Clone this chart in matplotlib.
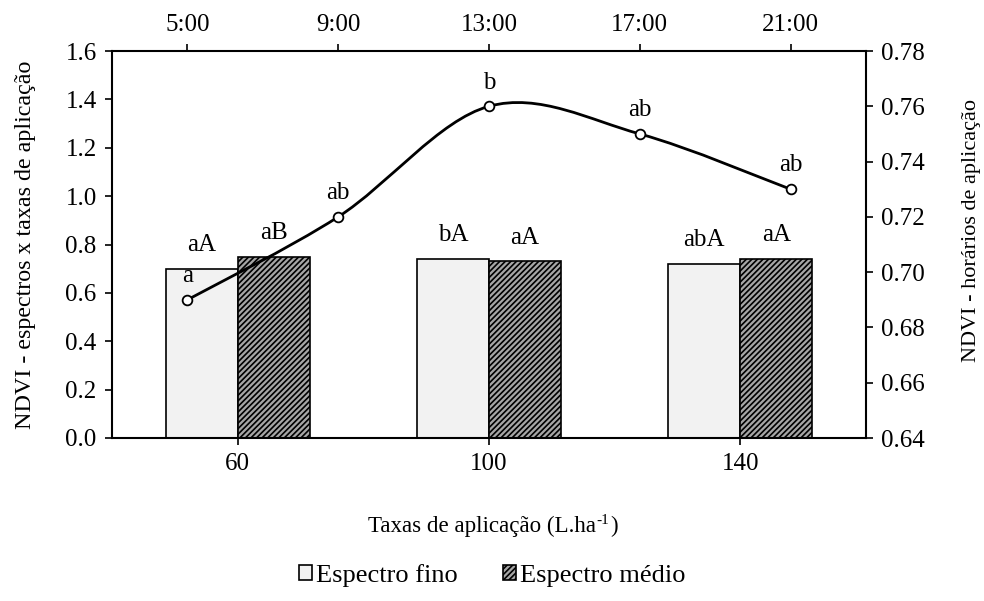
import numpy as np
import matplotlib.pyplot as plt
from matplotlib.path import Path
from matplotlib.patches import PathPatch

plt.rcParams['font.family'] = ['Liberation Serif', 'DejaVu Serif']
plt.rcParams['font.size'] = 18
plt.rcParams['hatch.linewidth'] = 1.2

# data
taxas = ['60', '100', '140']
fino = [0.70, 0.74, 0.72]
medio = [0.75, 0.73, 0.74]
fino_lbl = ['aA', 'bA', 'abA']
medio_lbl = ['aB', 'aA', 'aA']

horarios = ['5:00', '9:00', '13:00', '17:00', '21:00']
ndvi_hora = [0.69, 0.72, 0.76, 0.75, 0.73]
hora_lbl = ['a', 'ab', 'b', 'ab', 'ab']

fig = plt.figure(figsize=(9.84, 6.01), dpi=100)
ax = fig.add_axes([112 / 984, 1 - 438 / 601, 754 / 984, 387 / 601])

x = np.arange(len(taxas))
w = 0.287
b1 = ax.bar(x - w / 2, fino, w, color='#f2f2f2', edgecolor='black', linewidth=1.2,
            label='Espectro fino')
b2 = ax.bar(x + w / 2, medio, w, color='#a6a6a6', edgecolor='black', linewidth=1.2,
            hatch='//////', label='Espectro médio')
for xi, v, t in zip(x - w / 2, fino, fino_lbl):
    ax.text(xi, v + 0.052, t, ha='center', va='bottom')
for xi, v, t in zip(x + w / 2, medio, medio_lbl):
    ax.text(xi, v + 0.052, t, ha='center', va='bottom')

ax.set_xlim(-0.5, len(taxas) - 0.5)
ax.set_ylim(0, 1.6)
ax.set_yticks(np.arange(0, 1.61, 0.2))
ax.set_yticklabels([f'{v:.1f}' for v in np.arange(0, 1.61, 0.2)])
ax.set_xticks(x)
ax.set_xticklabels(taxas)
ax.set_ylabel('NDVI - espectros x taxas de aplicação', fontsize=17.3, labelpad=21)
ax.tick_params(direction='out', length=5, width=1.2, pad=6)
for s in ax.spines.values():
    s.set_linewidth(1.5)

# x label with a plain hyphen in the superscript
t1 = fig.text(368 / 984, 1 - 532 / 601, 'Taxas de aplicação (L.ha', fontsize=16.6,
              ha='left', va='baseline')
t2 = plt.annotate('-1', xy=(1, 0), xycoords=t1, xytext=(0.3, 9.5), textcoords='offset points',
                  fontsize=11, ha='left', va='baseline', annotation_clip=False)
plt.annotate(')', xy=(1, 0), xycoords=(t2, t1), xytext=(0.5, 0), textcoords='offset points',
             fontsize=16.6, ha='left', va='bottom', annotation_clip=False)

# secondary axes: line over horarios
ax2 = fig.add_axes(ax.get_position(), frameon=False)
ax2.set_xlim(-0.5, len(horarios) - 0.5)
ax2.set_ylim(0.64, 0.78)
ax2.xaxis.tick_top()
ax2.yaxis.tick_right()
ax2.yaxis.set_label_position('right')
ax2.set_xticks(np.arange(len(horarios)))
ax2.set_xticklabels(horarios)
ax2.set_yticks(np.arange(0.64, 0.781, 0.02))
ax2.set_yticklabels([f'{v:.2f}' for v in np.arange(0.64, 0.781, 0.02)])
ax2.set_ylabel('NDVI - horários de aplicação', fontsize=16, labelpad=28)
ax2.yaxis.set_label_coords(1.127, 0.535)
ax2.tick_params(direction='out', length=5, width=1.2, pad=6)

# smoothed line (Catmull-Rom style Bezier, like Excel)
hx = np.arange(len(horarios), dtype=float)
hy = np.array(ndvi_hora)
pts = np.column_stack([hx, hy])
ext = np.vstack([pts[0], pts, pts[-1]])
verts = [tuple(pts[0])]
codes = [Path.MOVETO]
for i in range(len(pts) - 1):
    p0, p1, p2, p3 = ext[i], ext[i + 1], ext[i + 2], ext[i + 3]
    c1 = p1 + (p2 - p0) / 6
    c2 = p2 - (p3 - p1) / 6
    verts += [tuple(c1), tuple(c2), tuple(p2)]
    codes += [Path.CURVE4] * 3
ax2.add_patch(PathPatch(Path(verts, codes), facecolor='none', edgecolor='black', lw=2))
ax2.plot(hx, hy, ls='none', marker='o', ms=7, mfc='white', mec='black', mew=1.3, zorder=5)
for xi, v, t in zip(hx, hy, hora_lbl):
    ax2.text(xi, v + 0.0046, t, ha='center', va='bottom')

fig.legend(handles=[b1, b2], loc='center', bbox_to_anchor=(0.5, 0.043), ncol=2,
           frameon=False, fontsize=19, handlelength=0.5, handleheight=0.5,
           handletextpad=0.15, columnspacing=1.7)

fig.savefig('out.png', dpi=100)
